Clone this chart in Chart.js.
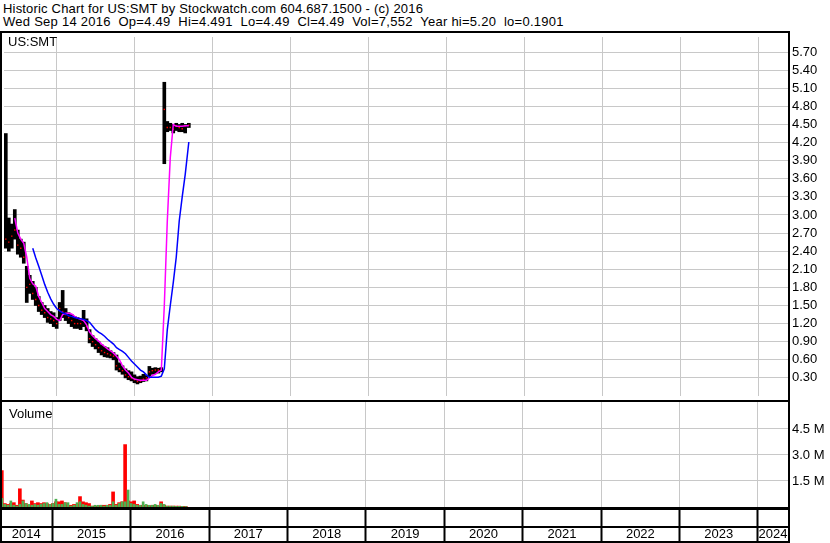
<!DOCTYPE html>
<html>
<head>
<meta charset="utf-8">
<script src="https://cdn.jsdelivr.net/npm/chart.js@4.4.0/dist/chart.umd.min.js"></script>
<style>
  body { margin: 0; background: #fff; }
  #page { position: relative; width: 830px; height: 543px; overflow: hidden; background: #fff;
          font-family: "Liberation Sans", Arial, sans-serif; color: #000; }
  .txt { position: absolute; font-size: 13px; line-height: 13px; white-space: pre; }
  .ln { position: absolute; background: #000; }
  canvas { position: absolute; left: 0; }
</style>
</head>
<body>
<div id="page">
  <div class="txt" style="left:3px;top:2px;letter-spacing:0.18px">Historic Chart for US:SMT by Stockwatch.com 604.687.1500 - (c) 2016</div>
  <div class="txt" style="left:3px;top:15px;letter-spacing:0.26px">Wed Sep 14 2016  Op=4.49  Hi=4.491  Lo=4.49  Cl=4.49  Vol=7,552  Year hi=5.20  lo=0.1901</div>

  <canvas id="price" width="830" height="367" style="top:33px"></canvas>
  <canvas id="volume" width="830" height="142" style="top:401px"></canvas>

  <div class="txt" style="left:8px;top:35px">US:SMT</div>
  <div class="txt" style="left:9px;top:407px">Volume</div>

  <!-- frame -->
  <div class="ln" style="left:0;top:31px;width:790px;height:2px"></div>
  <div class="ln" style="left:0;top:31px;width:2px;height:512px"></div>
  <div class="ln" style="left:788px;top:31px;width:2px;height:512px"></div>
  <div class="ln" style="left:0;top:400px;width:790px;height:2px"></div>
  <div class="ln" style="left:0;top:507px;width:790px;height:3px"></div>
  <div class="ln" style="left:0;top:526px;width:790px;height:2px"></div>
  <div class="ln" style="left:0;top:541px;width:790px;height:2px"></div>
</div>

<script>
var dates = [
    '2014-05-11', '2014-05-25', '2014-06-08', '2014-06-22', '2014-07-06', '2014-07-20', '2014-08-03', '2014-08-17',
    '2014-08-31', '2014-09-14', '2014-09-28', '2014-10-12', '2014-10-26', '2014-11-09', '2014-11-23', '2014-12-07',
    '2014-12-21', '2015-01-04', '2015-01-18', '2015-02-01', '2015-02-15', '2015-03-01', '2015-03-15', '2015-03-29',
    '2015-04-12', '2015-04-26', '2015-05-10', '2015-05-24', '2015-06-07', '2015-06-21', '2015-07-05', '2015-07-19',
    '2015-08-02', '2015-08-16', '2015-08-30', '2015-09-13', '2015-09-27', '2015-10-11', '2015-10-25', '2015-11-08',
    '2015-11-22', '2015-12-06', '2015-12-20', '2016-01-03', '2016-01-17', '2016-01-31', '2016-02-14', '2016-02-28',
    '2016-03-13', '2016-03-27', '2016-04-10', '2016-04-24', '2016-05-08', '2016-05-22', '2016-06-05', '2016-06-19',
    '2016-07-03', '2016-07-17', '2016-07-31', '2016-08-14', '2016-08-28', '2016-09-14'
];
var highs = [
    4.35, 2.95, 2.85, 3.09, 2.75, 2.6, 2.55, 2.15, 2.0, 1.9, 1.8, 1.65, 1.55, 1.5, 1.45, 1.4,
    1.38, 1.3, 1.55, 1.75, 1.45, 1.38, 1.35, 1.32, 1.3, 1.28, 1.42, 1.28, 1.1, 1.0, 0.95, 0.9,
    0.85, 0.82, 0.8, 0.75, 0.72, 0.68, 0.55, 0.5, 0.45, 0.42, 0.4, 0.35, 0.32, 0.33, 0.36, 0.34,
    0.49, 0.46, 0.47, 0.46, 0.47, 5.2, 4.55, 4.52, 4.5, 4.52, 4.5, 4.52, 4.5, 4.52
];
var lows = [
    2.45, 2.4, 2.45, 2.6, 2.35, 2.3, 2.2, 1.55, 1.7, 1.6, 1.5, 1.4, 1.35, 1.3, 1.22, 1.2,
    1.15, 1.12, 1.25, 1.3, 1.25, 1.2, 1.15, 1.12, 1.12, 1.1, 1.15, 1.08, 0.88, 0.82, 0.78, 0.72,
    0.68, 0.65, 0.64, 0.63, 0.6, 0.43, 0.4, 0.36, 0.3, 0.27, 0.25, 0.22, 0.2, 0.22, 0.24, 0.25,
    0.32, 0.36, 0.37, 0.38, 0.4, 3.85, 4.38, 4.4, 4.36, 4.4, 4.38, 4.38, 4.36, 4.45
];
var closes = [
    2.6, 2.55, 2.65, 2.75, 2.5, 2.45, 2.3, 1.8, 1.85, 1.7, 1.6, 1.5, 1.42, 1.38, 1.3, 1.28,
    1.25, 1.2, 1.45, 1.4, 1.35, 1.3, 1.25, 1.2, 1.2, 1.2, 1.25, 1.15, 0.95, 0.9, 0.85, 0.8,
    0.75, 0.72, 0.7, 0.68, 0.66, 0.5, 0.45, 0.42, 0.35, 0.32, 0.3, 0.27, 0.24, 0.25, 0.28, 0.3,
    0.4, 0.42, 0.43, 0.43, 0.44, 4.75, 4.45, 4.45, 4.42, 4.48, 4.45, 4.43, 4.48, 4.49
];
var maShort = [
    null, null, null, 2.95, 2.7, 2.6, 2.53, 2.3, 1.95, 1.86, 1.82, 1.65, 1.55, 1.45, 1.4, 1.35,
    1.32, 1.27, 1.25, 1.35, 1.37, 1.37, 1.36, 1.32, 1.29, 1.27, 1.25, 1.18, 1.06, 1.0, 0.95, 0.91,
    0.86, 0.82, 0.78, 0.75, 0.71, 0.66, 0.6, 0.5, 0.43, 0.38, 0.31, 0.28, 0.27, 0.26, 0.26, 0.26,
    0.3, 0.34, 0.36, 0.4, 0.43, 1.5, 2.9, 3.95, 4.5, 4.47, 4.47, 4.47, 4.48, 4.48
];
var maLong = [
    null, null, null, null, null, null, null, null, null, 2.45, 2.29, 2.15, 2.0, 1.85, 1.72, 1.61,
    1.52, 1.45, 1.41, 1.38, 1.36, 1.33, 1.32, 1.3, 1.29, 1.28, 1.27, 1.25, 1.22, 1.16, 1.1, 1.06,
    1.03, 0.99, 0.94, 0.9, 0.86, 0.8, 0.77, 0.74, 0.7, 0.64, 0.58, 0.53, 0.48, 0.43, 0.4, 0.35,
    0.31, 0.31, 0.31, 0.31, 0.33, 0.45, 1.1, 1.5, 1.88, 2.3, 2.9, 3.3, 3.67, 4.21
];
// volume in millions, down days and up days
var volDown = [
    2.1, 0.2, 0.15, 0.2, 0.25, 0.1, 1.05, 0.4, 0.2, 0.1, 0.35, 0.2, 0.25, 0.2, 0.25, 0.2,
    0.15, 0.2, 0.3, 0.3, 0.35, 0.25, 0.1, 0.1, 0.15, 0.15, 0.6, 0.3, 0.25, 0.2, 0.05, 0.05,
    0.05, 0.1, 0.1, 0.1, 0.15, 0.87, 0.15, 0.25, 0.3, 3.6, 0.35, 0.3, 0.35, 0.15, 0.1, 0.1,
    0.1, 0.05, 0.1, 0.1, 0.05, 0.3, 0.1, 0.05, 0.05, 0.05, 0.05, 0.05, 0.04, 0.04
];
var volUp = [
    0.5, 0.15, 0.1, 0.35, 0.1, 0.05, 0.15, 0.35, 0.2, 0.15, 0.1, 0.15, 0.1, 0.15, 0.2, 0.25,
    0.15, 0.2, 0.45, 0.15, 0.15, 0.25, 0.25, 0.05, 0.1, 0.25, 0.3, 0.15, 0.1, 0.05, 0.05, 0.1,
    0.1, 0.1, 0.05, 0.1, 0.1, 0.3, 0.1, 0.2, 0.3, 0.3, 0.98, 0.2, 0.15, 0.1, 0.1, 0.3,
    0.15, 0.1, 0.1, 0.15, 0.1, 0.2, 0.15, 0.05, 0.05, 0.05, 0.04, 0.04, 0.04, 0.03
];
var yearLabels = ['2014', '2015', '2016', '2017', '2018', '2019', '2020', '2021', '2022', '2023', '2024'];
var priceTicks = [0.3, 0.6, 0.9, 1.2, 1.5, 1.8, 2.1, 2.4, 2.7, 3.0, 3.3, 3.6, 3.9, 4.2, 4.5, 4.8, 5.1, 5.4, 5.7];
var volumeTicks = [1.5, 3.0, 4.5];

var xMin = 2014.333;
var xMax = 2024.383;
var font = {family: '"Liberation Sans", Arial, sans-serif', size: 13};
var gridColor = '#c8c8c8';

function toYear(s) {
    var d = new Date(s + 'T00:00:00Z');
    var y = d.getUTCFullYear();
    var start = Date.UTC(y, 0, 1);
    var end = Date.UTC(y + 1, 0, 1);
    return y + (d - start) / (end - start);
}

function series(values) {
    return dates.map(function (d, i) {
        return {x: toYear(d), y: values[i]};
    });
}

// year boundaries inside the visible range
var yearLines = yearLabels.map(Number).filter(function (y) {
    return y > xMin && y < xMax;
});
// label positions: middle of the visible part of each year
var yearMids = yearLabels.map(function (label) {
    var y = Number(label);
    return (Math.max(y, xMin) + Math.min(y + 1, xMax)) / 2;
});

function isBoundary(ctx) {
    return ctx.tick && yearLines.indexOf(ctx.tick.value) >= 0;
}

new Chart(document.getElementById('price'), {
    type: 'bar',
    data: {
        datasets: [
            {
                type: 'line',
                label: 'long',
                data: series(maLong),
                borderColor: '#0000ff',
                borderWidth: 1.5,
                pointRadius: 0,
                order: 0
            },
            {
                type: 'line',
                label: 'short',
                data: series(maShort),
                borderColor: '#ff00ff',
                borderWidth: 1.5,
                pointRadius: 0,
                order: 1
            },
            {
                type: 'line',
                label: 'close',
                data: series(closes),
                showLine: false,
                pointStyle: 'rect',
                pointRadius: 1,
                pointBorderWidth: 0,
                pointBackgroundColor: '#ff0000',
                order: 2
            },
            {
                type: 'bar',
                label: 'range',
                data: dates.map(function (d, i) {
                    return {x: toYear(d), y: [lows[i], highs[i]]};
                }),
                backgroundColor: '#000',
                barThickness: 3,
                grouped: false,
                order: 3
            }
        ]
    },
    options: {
        responsive: false,
        animation: false,
        layout: {padding: 0},
        plugins: {legend: {display: false}, tooltip: {enabled: false}},
        scales: {
            x: {
                type: 'linear',
                min: xMin,
                max: xMax,
                offset: false,
                afterBuildTicks: function (scale) {
                    scale.ticks = yearLines.map(function (v) { return {value: v}; });
                },
                ticks: {display: false},
                grid: {color: gridColor, drawTicks: false, offset: false},
                border: {display: false},
                afterFit: function (scale) { scale.height = 0; }
            },
            y: {
                position: 'right',
                min: 0,
                max: 5.95,
                afterBuildTicks: function (scale) {
                    scale.ticks = priceTicks.map(function (v) { return {value: v}; });
                },
                ticks: {
                    color: '#000',
                    font: font,
                    padding: 4,
                    callback: function (v) { return v.toFixed(2); }
                },
                grid: {color: gridColor, drawTicks: false},
                border: {display: false},
                afterFit: function (scale) {
                    scale.width = 42;
                    scale.paddingTop = 0;
                    scale.paddingBottom = 0;
                }
            }
        }
    }
});

new Chart(document.getElementById('volume'), {
    type: 'bar',
    data: {
        datasets: [
            {
                label: 'up',
                data: series(volUp),
                backgroundColor: '#4cb050',
                barThickness: 2,
                grouped: false,
                order: 0
            },
            {
                label: 'down',
                data: series(volDown),
                backgroundColor: '#ff0000',
                barThickness: 3,
                grouped: false,
                order: 1
            }
        ]
    },
    options: {
        responsive: false,
        animation: false,
        layout: {padding: 0},
        plugins: {legend: {display: false}, tooltip: {enabled: false}},
        scales: {
            x: {
                type: 'linear',
                min: xMin,
                max: xMax,
                offset: false,
                afterBuildTicks: function (scale) {
                    var all = yearLines.concat(yearMids).sort(function (a, b) { return a - b; });
                    scale.ticks = all.map(function (v) { return {value: v}; });
                },
                ticks: {
                    autoSkip: false,
                    maxRotation: 0,
                    color: '#000',
                    font: font,
                    padding: -15,
                    callback: function (v) {
                        var k = yearMids.indexOf(v);
                        return k >= 0 ? yearLabels[k] : '';
                    }
                },
                grid: {
                    color: function (ctx) { return isBoundary(ctx) ? gridColor : 'rgba(0,0,0,0)'; },
                    tickColor: function (ctx) { return isBoundary(ctx) ? '#000' : 'rgba(0,0,0,0)'; },
                    tickLength: 35,
                    tickWidth: 2,
                    offset: false
                },
                border: {display: false},
                afterFit: function (scale) {
                    scale.height = 36;
                    scale.paddingLeft = 0;
                    scale.paddingRight = 0;
                }
            },
            y: {
                position: 'right',
                min: 0,
                max: 6.115,
                afterBuildTicks: function (scale) {
                    scale.ticks = volumeTicks.map(function (v) { return {value: v}; });
                },
                ticks: {
                    color: '#000',
                    font: font,
                    padding: 4,
                    callback: function (v) { return v.toFixed(1) + ' M'; }
                },
                grid: {color: gridColor, drawTicks: false},
                border: {display: false},
                afterFit: function (scale) {
                    scale.width = 42;
                    scale.paddingTop = 0;
                    scale.paddingBottom = 0;
                }
            }
        }
    }
});
</script>
</body>
</html>
